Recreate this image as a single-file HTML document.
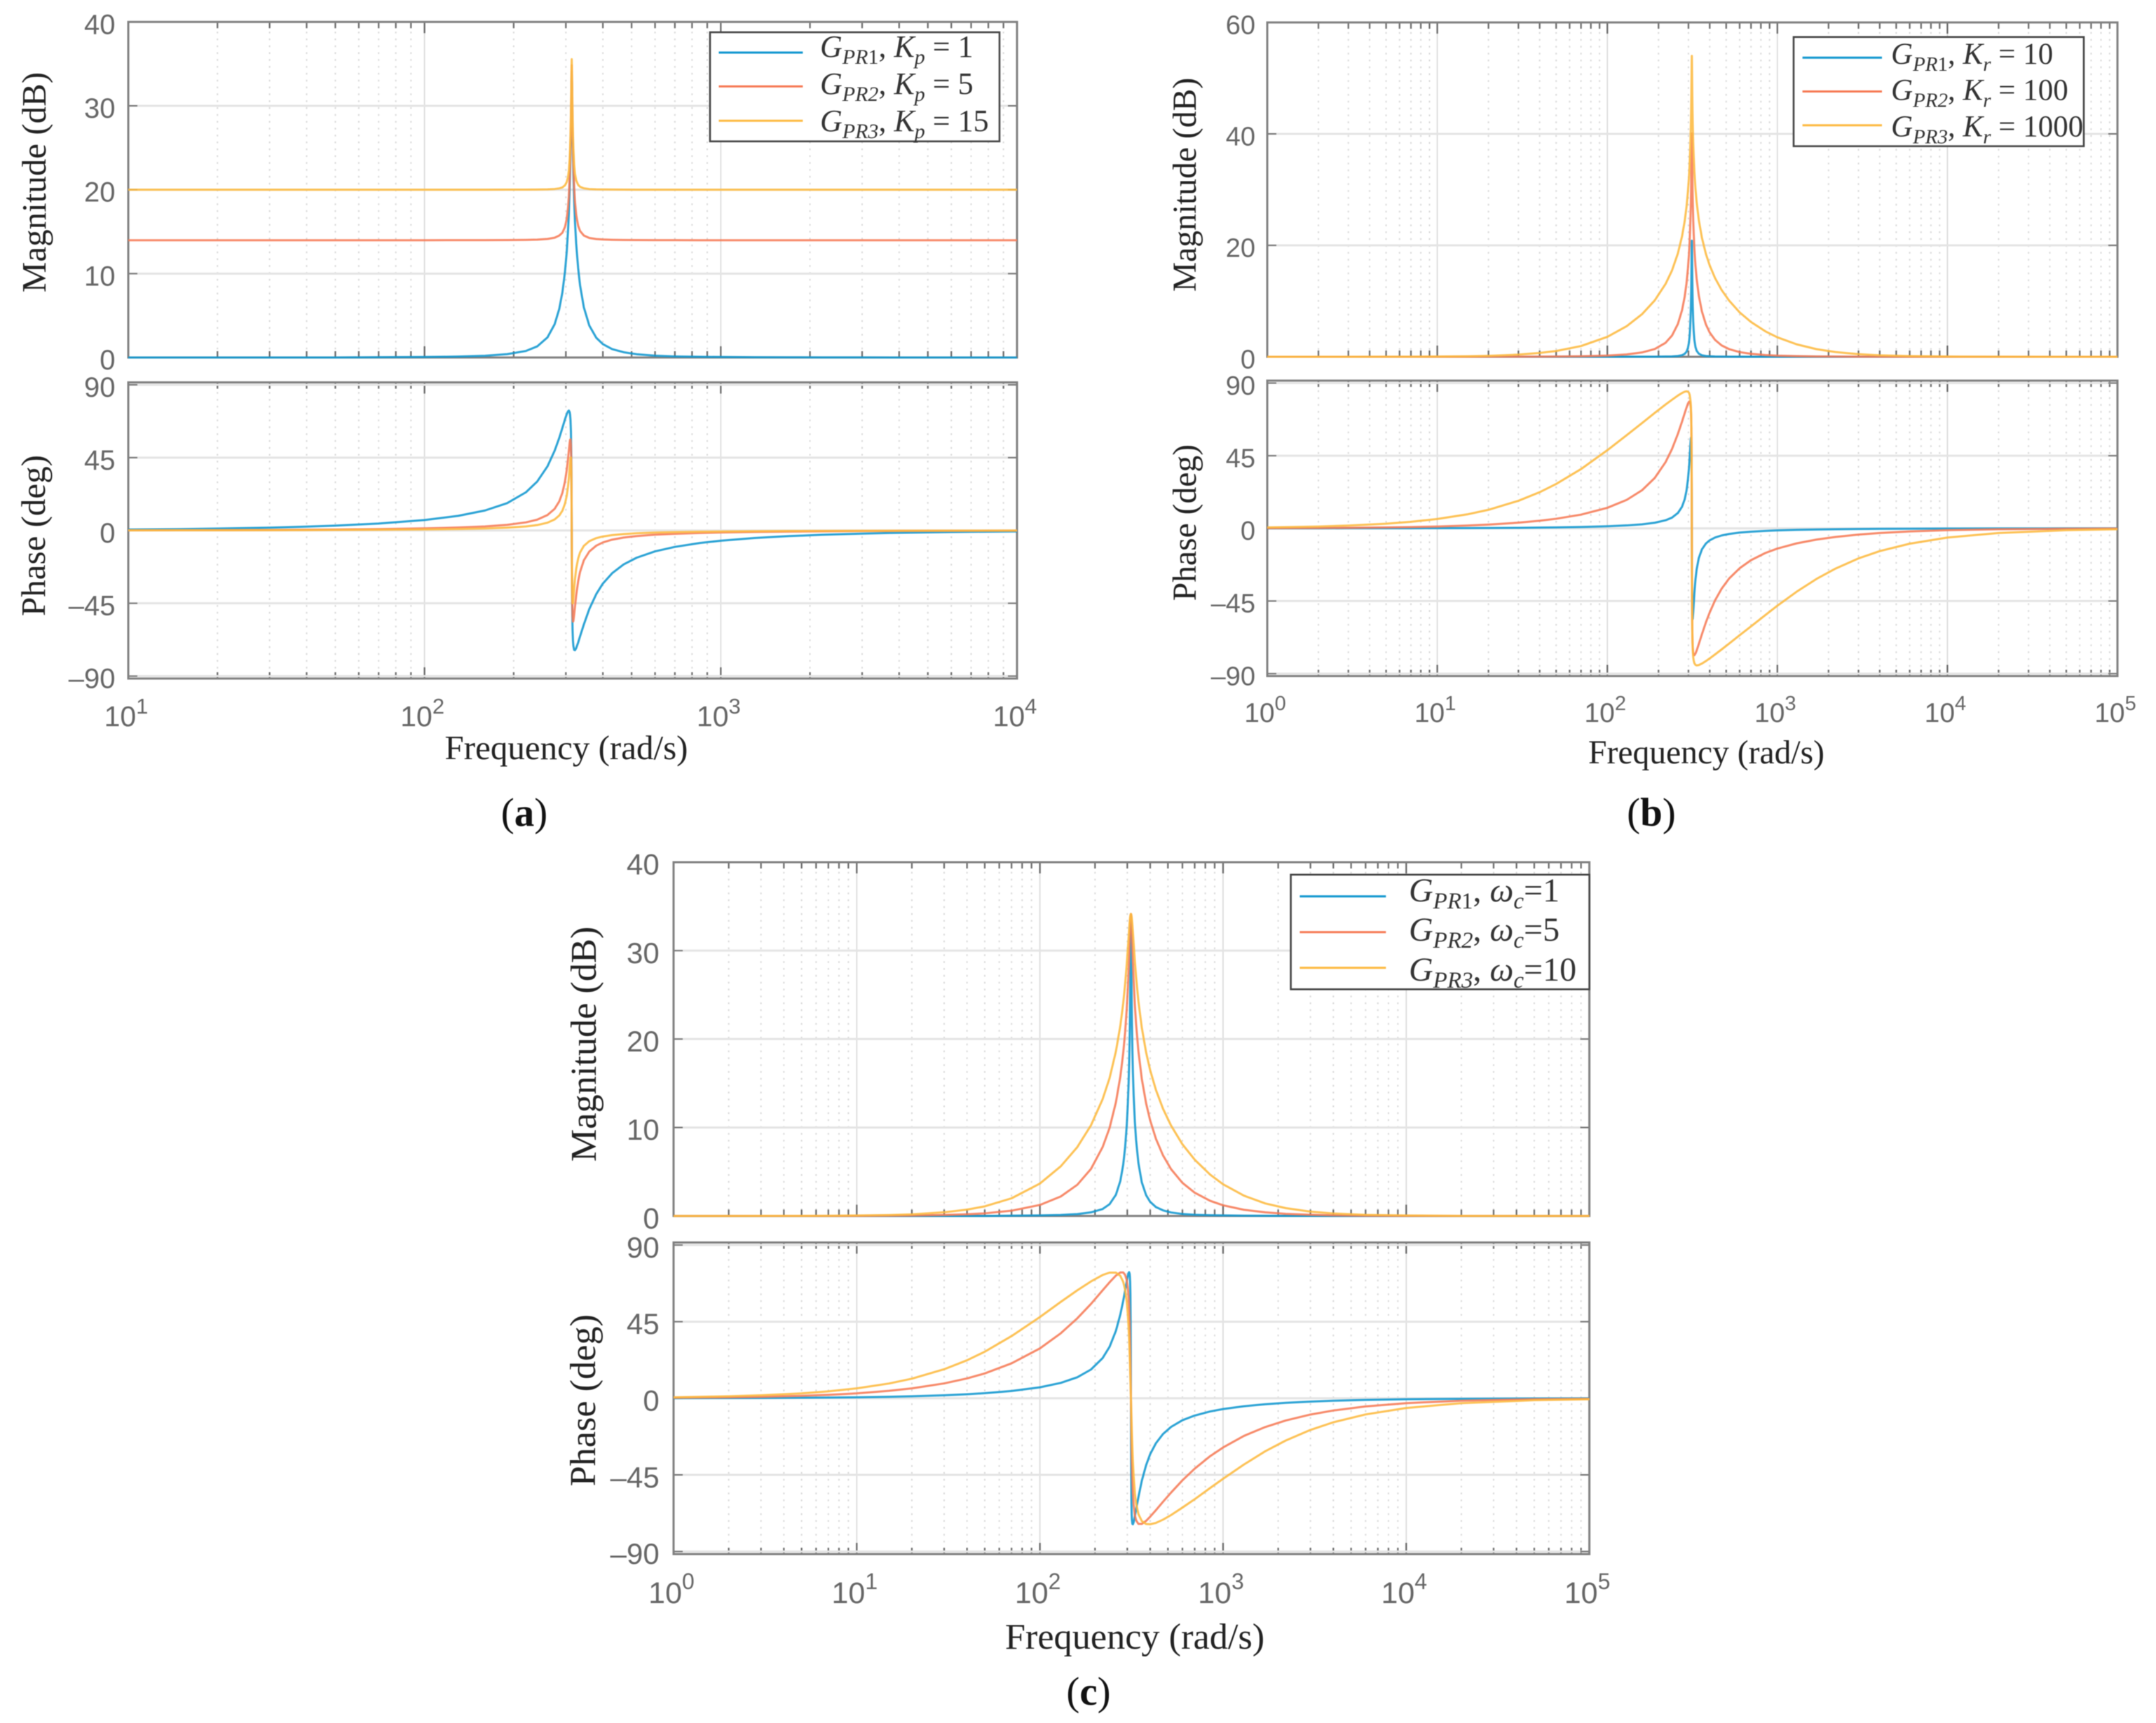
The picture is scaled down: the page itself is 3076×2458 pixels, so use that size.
<!DOCTYPE html>
<html lang="en">
<head>
<meta charset="utf-8">
<title>Bode plots of PR controller</title>
<style>
html,body{margin:0;padding:0;background:#fff;}
svg{display:block;filter:blur(0.6px);}
.axis-title{font-family:"Liberation Serif",serif;fill:#222;}
.caption{font-family:"Liberation Serif",serif;fill:#111;}
.legend-text{font-family:"Liberation Serif",serif;fill:#333;font-style:italic;white-space:pre;}
.legend-text .up{font-style:normal;}
.legend-box{fill:#fff;stroke:#444;stroke-width:2.6;}
.legend-line{fill:none;stroke-width:3;}
</style>
</head>
<body>
<svg xmlns="http://www.w3.org/2000/svg" width="3076" height="2458" viewBox="0 0 3076 2458">
<rect x="0" y="0" width="3076" height="2458" fill="#fff"/>
<g id="plot-layer"></g>

<text class="axis-title" font-size="49" transform="translate(65 260) rotate(-90)" text-anchor="middle">Magnitude (dB)</text>
<text class="axis-title" font-size="49" transform="translate(64 764) rotate(-90)" text-anchor="middle">Phase (deg)</text>
<text class="axis-title" font-size="49" x="808" y="1083" text-anchor="middle">Frequency (rad/s)</text>
<text class="caption" font-size="57" x="748" y="1178" text-anchor="middle">(<tspan font-weight="bold">a</tspan>)</text>

<text class="axis-title" font-size="47.6" transform="translate(1706 263.5) rotate(-90)" text-anchor="middle">Magnitude (dB)</text>
<text class="axis-title" font-size="47.6" transform="translate(1706 745.6) rotate(-90)" text-anchor="middle">Phase (deg)</text>
<text class="axis-title" font-size="47.6" x="2434.5" y="1089" text-anchor="middle">Frequency (rad/s)</text>
<text class="caption" font-size="57" x="2356" y="1178" text-anchor="middle">(<tspan font-weight="bold">b</tspan>)</text>

<text class="axis-title" font-size="52.3" transform="translate(850 1489.5) rotate(-90)" text-anchor="middle">Magnitude (dB)</text>
<text class="axis-title" font-size="52.3" transform="translate(849 1997.7) rotate(-90)" text-anchor="middle">Phase (deg)</text>
<text class="axis-title" font-size="52.3" x="1619" y="2352" text-anchor="middle">Frequency (rad/s)</text>
<text class="caption" font-size="57" x="1553" y="2432" text-anchor="middle">(<tspan font-weight="bold">c</tspan>)</text>

<g>
  <rect class="legend-box" x="1013" y="46" width="413" height="155.7"/>
  <g>
    <line class="legend-line" x1="1025.5" x2="1145.4" y1="75" y2="75" stroke="#0f96cf"/>
    <text class="legend-text" x="1170" y="81" font-size="44">G<tspan font-size="30" dy="10">PR<tspan class="up">1</tspan></tspan><tspan class="up" dy="-10">, </tspan>K<tspan font-size="30" dy="10">p</tspan><tspan class="up" dy="-10"> = 1</tspan></text>
  </g>
  <g>
    <line class="legend-line" x1="1025.5" x2="1145.4" y1="123.2" y2="123.2" stroke="#f67a55"/>
    <text class="legend-text" x="1170" y="134" font-size="44">G<tspan font-size="30" dy="10">PR2</tspan><tspan class="up" dy="-10">, </tspan>K<tspan font-size="30" dy="10">p</tspan><tspan class="up" dy="-10"> = 5</tspan></text>
  </g>
  <g>
    <line class="legend-line" x1="1025.5" x2="1145.4" y1="172.2" y2="172.2" stroke="#fdb93f"/>
    <text class="legend-text" x="1170" y="187" font-size="44">G<tspan font-size="30" dy="10">PR3</tspan><tspan class="up" dy="-10">, </tspan>K<tspan font-size="30" dy="10">p</tspan><tspan class="up" dy="-10"> = 15</tspan></text>
  </g>
</g>

<g>
  <rect class="legend-box" x="2559" y="52.8" width="414" height="155.8"/>
  <g>
    <line class="legend-line" x1="2571.6" x2="2685" y1="82.3" y2="82.3" stroke="#0f96cf"/>
    <text class="legend-text" x="2698" y="91" font-size="43">G<tspan font-size="29" dy="10">PR<tspan class="up">1</tspan></tspan><tspan class="up" dy="-10">, </tspan>K<tspan font-size="29" dy="10">r</tspan><tspan class="up" dy="-10"> = 10</tspan></text>
  </g>
  <g>
    <line class="legend-line" x1="2571.6" x2="2685" y1="130.5" y2="130.5" stroke="#f67a55"/>
    <text class="legend-text" x="2698" y="142.4" font-size="43">G<tspan font-size="29" dy="10">PR2</tspan><tspan class="up" dy="-10">, </tspan>K<tspan font-size="29" dy="10">r</tspan><tspan class="up" dy="-10"> = 100</tspan></text>
  </g>
  <g>
    <line class="legend-line" x1="2571.6" x2="2685" y1="178.7" y2="178.7" stroke="#fdb93f"/>
    <text class="legend-text" x="2698" y="194.4" font-size="43">G<tspan font-size="29" dy="10">PR3</tspan><tspan class="up" dy="-10">, </tspan>K<tspan font-size="29" dy="10">r</tspan><tspan class="up" dy="-10"> = 1000</tspan></text>
  </g>
</g>

<g>
  <rect class="legend-box" x="1841.6" y="1247.8" width="426" height="163.5"/>
  <g>
    <line class="legend-line" x1="1854.4" x2="1977.3" y1="1278.8" y2="1278.8" stroke="#0f96cf"/>
    <text class="legend-text" x="2010" y="1286" font-size="48">G<tspan font-size="33" dy="10">PR<tspan class="up">1</tspan></tspan><tspan class="up" dy="-10">, </tspan>ω<tspan font-size="33" dy="10">c</tspan><tspan class="up" dy="-10">=1</tspan></text>
  </g>
  <g>
    <line class="legend-line" x1="1854.4" x2="1977.3" y1="1329.7" y2="1329.7" stroke="#f67a55"/>
    <text class="legend-text" x="2010" y="1342" font-size="48">G<tspan font-size="33" dy="10">PR2</tspan><tspan class="up" dy="-10">, </tspan>ω<tspan font-size="33" dy="10">c</tspan><tspan class="up" dy="-10">=5</tspan></text>
  </g>
  <g>
    <line class="legend-line" x1="1854.4" x2="1977.3" y1="1380.6" y2="1380.6" stroke="#fdb93f"/>
    <text class="legend-text" x="2010" y="1399" font-size="48">G<tspan font-size="33" dy="10">PR3</tspan><tspan class="up" dy="-10">, </tspan>ω<tspan font-size="33" dy="10">c</tspan><tspan class="up" dy="-10">=10</tspan></text>
  </g>
</g>
</svg>

<script>
// Frequency samples (rad/s)
const freqA = [10,15,20,30,40,50,70,100,130,160,190,220,240,260,275,285,292,298,302,305,307,309,310,311,312,313,313.5,314,314.5,315,316,317,318,320,322,325,330,335,345,360,380,400,430,470,520,600,700,850,1000,1300,1700,2200,3000,4000,6000,10000];
const freqWide = [1,2,3,5,7,10,15,20,30,40,50,70,100,130,160,190,220,240,260,275,285,292,298,302,305,307,309,310,311,312,313,313.5,314,314.5,315,316,317,318,320,322,325,330,335,345,360,380,400,430,470,520,600,700,850,1000,1300,1700,2200,3000,4000,6000,10000,20000,50000,100000];

// Tick values
const decadesA = [1,2,3,4];
const decadesWide = [0,1,2,3,4,5];
const minorMultiples = [2,3,4,5,6,7,8,9];
const magTicksA = [0,10,20,30,40];
const magTicksB = [0,20,40,60];
const magTicksC = [0,10,20,30,40];
const phaseTicks = [-90,-45,0,45,90];

// Panel (a): magnitude (dB)
const aMagBlue = [0,0,0,0,0,0,.03,.06,.11,.21,.40,.78,1.32,2.39,3.97,5.79,7.76,10.24,12.6,15.0,17.13,20.0,21.8,24.2,27.2,31.1,33.2,34.1,33.2,31.1,27.2,24.2,21.9,18.6,16.2,13.6,10.66,8.6,5.98,3.8,2.35,1.59,1.0,.63,.39,.22,.13,.08,.06,.03,.02,.01,.01,0,0,0];
const aMagRed = [13.98,13.98,13.98,13.98,13.98,13.98,13.98,13.98,13.99,13.99,14.0,14.02,14.05,14.13,14.28,14.54,14.87,15.56,16.52,17.81,19.21,21.41,22.99,25.12,27.96,31.83,33.85,34.82,33.85,31.83,27.96,25.12,23.09,20.31,18.6,17.03,15.71,15.08,14.54,14.25,14.12,14.07,14.03,14.01,14.0,13.99,13.99,13.98,13.98,13.98,13.98,13.98,13.98,13.98,13.98,13.98];
const aMagYellow = [20,20,20,20,20,20,20,20,20,20,20.01,20.01,20.02,20.04,20.09,20.16,20.28,20.53,20.91,21.5,22.26,23.66,24.81,26.53,29.03,32.67,34.62,35.56,34.62,32.67,29.03,26.53,24.9,22.92,21.91,21.13,20.58,20.35,20.17,20.08,20.04,20.03,20.02,20.01,20,20,20,20,20,20,20,20,20,20,20,20];

// Panel (a): phase (deg)
const aPhaseBlue = [.58,.87,1.17,1.76,2.36,2.98,4.27,6.44,9.03,12.34,16.88,23.6,30.2,39.6,49.3,57.2,63.4,68.7,71.85,73.6,74.06,73.14,71.57,68.2,61.2,43.9,26,0,-26,-43.9,-61.2,-68.2,-71.4,-73.8,-74,-72.75,-69.3,-65.4,-58.1,-48.5,-39.3,-32.8,-26.4,-21,-16.83,-12.9,-10.15,-7.75,-6.33,-4.67,-3.49,-2.66,-1.93,-1.44,-.96,-.57];
const aPhaseRed = [.12,.18,.23,.35,.47,.6,.86,1.29,1.82,2.51,3.48,5.01,6.66,9.51,13.39,17.96,23.22,30.3,37.3,44,49.2,54.2,56,56.3,53.1,39.8,24,0,-24,-39.8,-53.1,-56.3,-56,-52,-47.2,-40.2,-31.5,-25.6,-18.45,-13,-9.39,-7.4,-5.68,-4.4,-3.47,-2.62,-2.05,-1.56,-1.27,-.94,-.7,-.53,-.39,-.29,-.19,-.11];
const aPhaseYellow = [.06,.09,.12,.18,.24,.3,.43,.65,.91,1.25,1.74,2.51,3.34,4.79,6.8,9.26,12.2,16.6,21.46,27,32.2,38.7,42.2,45,45,35.5,21.8,0,-21.8,-35.5,-45,-45,-42.4,-35.7,-30.1,-23.8,-17.4,-13.6,-9.52,-6.61,-4.73,-3.72,-2.85,-2.2,-1.74,-1.31,-1.03,-.78,-.64,-.47,-.35,-.27,-.19,-.14,-.1,-.06];

// Panel (b): magnitude (dB)
const bMagBlue = [0,0,0,0,0,0,0,0,0,0,0,0,0,.01,.01,.02,.04,.07,.14,.29,.53,.89,1.59,2.54,3.83,5.24,7.43,9.01,11.14,13.98,17.85,19.87,20.83,19.87,17.85,13.98,11.14,9.12,6.33,4.62,3.05,1.73,1.1,.56,.27,.14,.09,.05,.03,.02,.01,0,0,0,0,0,0,0,0,0,0,0,0,0];
const bMagRed = [0,0,0,0,0,0,0,.01,.02,.03,.05,.1,.22,.43,.78,1.39,2.51,3.8,5.89,8.35,10.77,13.12,15.86,18.36,20.83,23.0,25.87,27.73,30.09,33.1,37.08,39.12,40.09,39.12,37.08,33.1,30.09,27.85,24.5,22.1,19.43,16.3,14.08,11,8.13,5.8,4.36,3.03,2.04,1.38,.84,.53,.32,.21,.12,.07,.04,.02,.01,0,0,0,0,0];
const bMagYellow = [0,0,0,.01,.02,.04,.1,.18,.39,.69,1.04,1.93,3.58,5.5,7.65,10.12,13.07,15.48,18.56,21.61,24.32,26.81,29.66,32.2,34.72,36.9,39.77,41.63,44,47,50.99,53.03,54,53.03,50.99,47,44,41.76,38.39,35.99,33.29,30.12,27.82,24.58,21.35,18.45,16.4,14.13,11.99,10.09,7.97,6.24,4.57,3.5,2.23,1.37,.85,.47,.27,.12,.04,.01,0,0];

// Panel (b): phase (deg)
const bPhaseBlue = [.01,.02,.03,.06,.08,.12,.18,.23,.35,.47,.6,.86,1.29,1.82,2.51,3.48,5.01,6.65,9.5,13.4,17.95,23.2,30.3,37.3,44,49.1,54.1,55.9,56.3,53.1,39.8,24,0,-24,-39.8,-53.1,-56.3,-56,-52,-47.2,-40.2,-31.5,-25.6,-18.45,-13,-9.39,-7.4,-5.68,-4.4,-3.47,-2.62,-2.05,-1.56,-1.27,-.94,-.7,-.53,-.39,-.29,-.19,-.11,-.06,-.02,-.01];
const bPhaseRed = [.12,.23,.35,.58,.81,1.16,1.75,2.33,3.51,4.72,5.94,8.5,12.72,17.64,23.6,31.2,41,49.1,58.5,66.1,71.3,74.7,77.3,78.4,78.6,78,75.9,73.8,69.9,62.3,44.4,26.3,0,-26.3,-44.4,-62.3,-69.9,-73.6,-77.1,-78.3,-78.6,-77.5,-75.8,-71.7,-65.6,-58.2,-52.1,-44.6,-37.4,-31.1,-24.7,-19.7,-15.24,-12.52,-9.28,-6.94,-5.3,-3.86,-2.88,-1.91,-1.15,-.57,-.23,-.12];
const bPhaseYellow = [.58,1.16,1.74,2.9,4.06,5.8,8.67,11.5,17.07,22.4,27.5,36.7,48.4,57.7,65.2,71.5,76.7,79.65,82.25,83.86,84.64,84.88,84.64,84,82.7,80.8,78.2,75.6,71.2,63.2,44.9,26.5,0,-26.5,-44.9,-63.2,-71.2,-75.4,-79.8,-81.9,-83.5,-84.55,-84.86,-84.68,-83.75,-82.2,-80.55,-78.1,-75,-71.4,-66.2,-60.7,-53.7,-47.9,-39.2,-31.3,-24.9,-18.6,-14.1,-9.5,-5.71,-2.86,-1.15,-.57];

// Panel (c): magnitude (dB)
const cMagBlue = [0,0,0,0,0,0,0,0,0,0,0,.03,.06,.11,.21,.40,.78,1.32,2.39,3.97,5.79,7.76,10.24,12.6,15.0,17.13,20.0,21.8,24.2,27.2,31.1,33.2,34.1,33.2,31.1,27.2,24.2,21.9,18.6,16.2,13.6,10.66,8.6,5.98,3.8,2.35,1.59,1.0,.63,.39,.22,.13,.08,.06,.03,.02,.01,.01,0,0,0,0,0,0];
const cMagRed = [0,0,0,0,0,.01,.03,.05,.11,.19,.29,.59,1.24,2.2,3.52,5.31,7.78,9.94,12.84,15.77,18.4,20.78,23.44,25.7,27.77,29.35,31.1,31.98,32.8,33.5,33.98,34.11,34.15,34.11,33.98,33.5,32.8,32.03,30.32,28.72,26.63,23.85,21.73,18.63,15.5,12.74,10.8,8.72,6.85,5.29,3.74,2.63,1.71,1.2,.69,.4,.24,.13,.07,.03,.01,0,0,0];
const cMagYellow = [0,0,.01,.01,.02,.05,.1,.18,.41,.71,1.08,1.99,3.66,5.61,7.78,10.24,13.2,15.57,18.6,21.52,24.03,26.22,28.47,30.17,31.5,32.38,33.17,33.5,33.77,33.98,34.11,34.14,34.15,34.14,34.11,33.98,33.77,33.5,32.84,32.05,30.8,28.8,27.05,24.27,21.3,18.5,16.47,14.25,12.12,10.22,8.1,6.36,4.67,3.58,2.29,1.41,.88,.48,.28,.12,.05,.01,0,0];

// Panel (c): phase (deg)
const cPhaseBlue = [.06,.12,.17,.29,.41,.58,.87,1.17,1.76,2.36,2.98,4.27,6.44,9.03,12.34,16.88,23.6,30.2,39.6,49.3,57.2,63.4,68.7,71.85,73.6,74.06,73.14,71.57,68.2,61.2,43.9,26,0,-26,-43.9,-61.2,-68.2,-71.4,-73.8,-74,-72.75,-69.3,-65.4,-58.1,-48.5,-39.3,-32.8,-26.4,-21,-16.83,-12.9,-10.15,-7.75,-6.33,-4.67,-3.49,-2.66,-1.93,-1.44,-.96,-.57,-.29,-.11,-.06];
const cPhaseRed = [.29,.58,.87,1.45,2.03,2.9,4.36,5.81,8.73,11.65,14.58,20.5,29.28,38.17,46.95,55.4,63.4,68.1,72.05,73.9,73.9,72.5,69.4,65.05,59.2,53.2,44.15,37.95,30.4,21.4,11.1,5.6,0,-5.6,-11.1,-21.4,-30.3,-37.6,-48.6,-55.9,-62.75,-68.7,-71.6,-73.8,-73.8,-72,-69.55,-65.7,-60.8,-55.4,-48.2,-41.35,-34,-28.9,-22.1,-16.9,-13.05,-9.56,-7.17,-4.78,-2.86,-1.43,-.57,-.29];
const cPhaseYellow = [.58,1.16,1.74,2.9,4.06,5.8,8.67,11.51,17.04,22.3,27.35,36.5,47.7,56.6,63.4,68.6,72.4,73.8,73.8,71.85,68.4,63.8,56.8,49.4,41.4,34.6,26.2,21.5,16.4,11.1,5.6,2.8,0,-2.8,-5.6,-11.1,-16.3,-21.3,-30.1,-37.4,-46,-55.6,-61.6,-68,-72.1,-73.85,-74,-73.2,-71.3,-68.6,-64.2,-59.3,-52.7,-47.3,-38.9,-31.1,-24.8,-18.6,-14.1,-9.5,-5.71,-2.86,-1.15,-.57];

const NS = 'http://www.w3.org/2000/svg';
const layer = document.getElementById('plot-layer');
const SERIES_COLORS = ['#0f96cf', '#f67a55', '#fdb93f'];

// Layout of each axes box (pixels) — separate from the data above.
const axesList = [
  {id:'a-magnitude', left:183, right:1451, top:31.3, bottom:510, yMin:0, yMax:40, yTicks:magTicksA, decades:decadesA, freq:freqA,
   series:[aMagBlue,aMagRed,aMagYellow], labelRight:164.5, font:40},
  {id:'a-phase', left:183, right:1451, top:545.5, bottom:968, yMin:-91.5, yMax:91.5, yTicks:phaseTicks, decades:decadesA, freq:freqA,
   series:[aPhaseBlue,aPhaseRed,aPhaseYellow], labelRight:164.5, font:40, xFont:41, xBase:1036, expFont:31, expDy:-18},
  {id:'b-magnitude', left:1808, right:3021, top:32, bottom:509, yMin:0, yMax:60, yTicks:magTicksB, decades:decadesWide, freq:freqWide,
   series:[bMagBlue,bMagRed,bMagYellow], labelRight:1791, font:38},
  {id:'b-phase', left:1808, right:3021, top:543, bottom:964.5, yMin:-91.5, yMax:91.5, yTicks:phaseTicks, decades:decadesWide, freq:freqWide,
   series:[bPhaseBlue,bPhaseRed,bPhaseYellow], labelRight:1791, font:38, xFont:39, xBase:1030, expFont:29, expDy:-17},
  {id:'c-magnitude', left:961, right:2267.6, top:1230, bottom:1734.6, yMin:0, yMax:40, yTicks:magTicksC, decades:decadesWide, freq:freqWide,
   series:[cMagBlue,cMagRed,cMagYellow], labelRight:940.7, font:42},
  {id:'c-phase', left:961, right:2267.6, top:1772.5, bottom:2217, yMin:-91.5, yMax:91.5, yTicks:phaseTicks, decades:decadesWide, freq:freqWide,
   series:[cPhaseBlue,cPhaseRed,cPhaseYellow], labelRight:940.7, font:42, xFont:43, xBase:2287, expFont:32, expDy:-20}
];

function xAxis(ax, f) {
  const lo = ax.decades[0], hi = ax.decades[ax.decades.length - 1];
  return ax.left + (Math.log10(f) - lo) / (hi - lo) * (ax.right - ax.left);
}
function yAxis(ax, v) {
  return ax.bottom - (v - ax.yMin) / (ax.yMax - ax.yMin) * (ax.bottom - ax.top);
}
function makeLine(x1, y1, x2, y2, color, width, dash) {
  const el = document.createElementNS(NS, 'line');
  el.setAttribute('x1', x1);
  el.setAttribute('y1', y1);
  el.setAttribute('x2', x2);
  el.setAttribute('y2', y2);
  el.setAttribute('stroke', color);
  el.setAttribute('stroke-width', width);
  if (dash) el.setAttribute('stroke-dasharray', dash);
  return el;
}
function tickText(x, y, size, anchor, str) {
  const el = document.createElementNS(NS, 'text');
  el.setAttribute('x', x);
  el.setAttribute('y', y);
  el.setAttribute('font-size', size);
  el.setAttribute('font-family', '"Liberation Sans", Arial, sans-serif');
  el.setAttribute('fill', '#666');
  el.setAttribute('text-anchor', anchor);
  el.textContent = str;
  return el;
}

axesList.forEach(function (ax) {
  const g = document.createElementNS(NS, 'g');
  
  
  layer.appendChild(g);

  // minor vertical grid + minor ticks
  ax.decades.slice(0, -1).forEach(function (d) {
    minorMultiples.forEach(function (m) {
      const x = xAxis(ax, m * Math.pow(10, d));
      const grid = makeLine(x, ax.top + 4, x, ax.bottom, '#dadada', 2, '2.5 7.3');
      
      
      g.appendChild(grid);
      const t1 = makeLine(x, ax.bottom, x, ax.bottom - 9, '#6e6e6e', 2.3);
      
      
      g.appendChild(t1);
      const t2 = makeLine(x, ax.top, x, ax.top + 9, '#6e6e6e', 2.3);
      
      
      g.appendChild(t2);
    });
  });

  // major vertical grid + ticks + labels
  ax.decades.forEach(function (d) {
    const x = xAxis(ax, Math.pow(10, d));
    const grid = makeLine(x, ax.top, x, ax.bottom, '#dcdcdc', 1.8);
    
    
    g.appendChild(grid);
    const t1 = makeLine(x, ax.bottom, x, ax.bottom - 16, '#6a6a6a', 2.3);
    
    
    g.appendChild(t1);
    const t2 = makeLine(x, ax.top, x, ax.top + 16, '#6a6a6a', 2.3);
    
    
    g.appendChild(t2);
    if (ax.xBase) {
      const label = tickText(x - 3, ax.xBase, ax.xFont, 'middle', '10');
      
      
      const sup = document.createElementNS(NS, 'tspan');
      sup.setAttribute('font-size', ax.expFont);
      sup.setAttribute('dy', ax.expDy);
      sup.textContent = String(d);
      label.appendChild(sup);
      g.appendChild(label);
    }
  });

  // horizontal grid, y ticks and labels
  ax.yTicks.forEach(function (v) {
    const y = yAxis(ax, v);
    const grid = makeLine(ax.left, y, ax.right, y, '#e4e4e4', 3);
    
    
    g.appendChild(grid);
    const t1 = makeLine(ax.left, y, ax.left + 13, y, '#777', 2);
    
    
    g.appendChild(t1);
    const t2 = makeLine(ax.right, y, ax.right - 13, y, '#777', 2);
    
    
    g.appendChild(t2);
    const str = v < 0 ? '\u2013' + Math.abs(v) : String(v);
    const label = tickText(ax.labelRight, y + 3 + ax.font * 0.35, ax.font, 'end', str);
    
    
    g.appendChild(label);
  });

  // axes frame (drawn beneath the curves so zero-level traces stay visible)
  const frame = document.createElementNS(NS, 'rect');
  frame.setAttribute('x', ax.left);
  frame.setAttribute('y', ax.top);
  frame.setAttribute('width', ax.right - ax.left);
  frame.setAttribute('height', ax.bottom - ax.top);
  frame.setAttribute('fill', 'none');
  frame.setAttribute('stroke', '#808080');
  frame.setAttribute('stroke-width', '3');
  
  
  g.appendChild(frame);

  // series
  const seriesNames = ['gpr1', 'gpr2', 'gpr3'];
  ax.series.forEach(function (values, i) {
    const pts = values.map(function (v, k) {
      return xAxis(ax, ax.freq[k]).toFixed(2) + ',' + yAxis(ax, v).toFixed(2);
    }).join(' ');
    const line = document.createElementNS(NS, 'polyline');
    line.setAttribute('points', pts);
    line.setAttribute('fill', 'none');
    line.setAttribute('stroke', SERIES_COLORS[i]);
    line.setAttribute('stroke-width', '3');
    line.setAttribute('stroke-opacity', '0.88');
    line.setAttribute('stroke-linejoin', 'round');
    
    
    g.appendChild(line);
  });
});
</script>
</body>
</html>
